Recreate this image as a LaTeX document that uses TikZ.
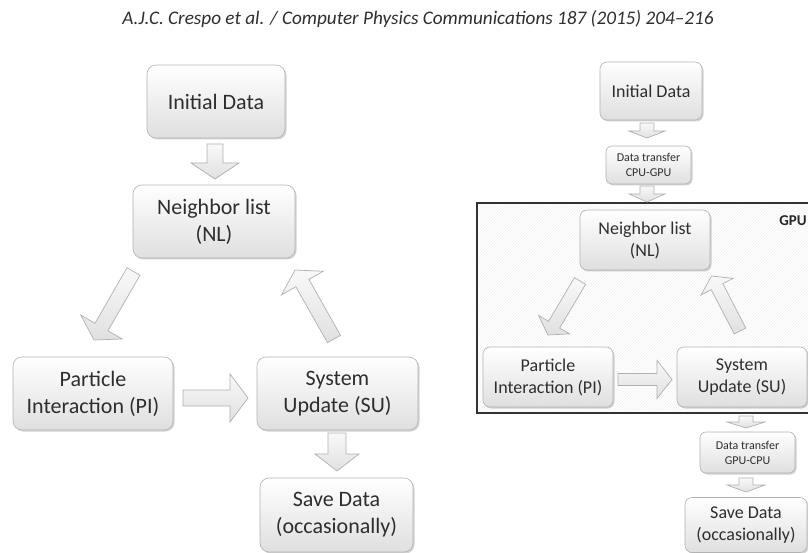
\documentclass[tikz,border=0pt]{standalone}
\usepackage{fontspec}
\setmainfont{Carlito}
\usetikzlibrary{calc,shadows,patterns}
\definecolor{txt}{HTML}{2E2E2E}
\tikzset{
  box/.style={draw=gray!60, line width=0.6pt, rounded corners=9pt, top color=white, bottom color=gray!25,
    align=center, text=txt, inner sep=2pt,
    drop shadow={shadow xshift=1.5pt, shadow yshift=-1.5pt, opacity=0.35, fill=gray}},
  bigbox/.style={box, font=\fontsize{22}{27}\selectfont},
  smallbox/.style={box, rounded corners=7pt, font=\fontsize{18}{22}\selectfont},
  tinybox/.style={box, rounded corners=6pt, font=\fontsize{12}{15}\selectfont},
  barrow/.style={draw=gray!62, line width=0.7pt, top color=gray!5, bottom color=gray!24, line join=miter},
  gpubox/.style={draw=black!80, line width=1.5pt, pattern=north east lines, pattern color=gray!12},
}
% #1 start, #2 end, #3 shaft half width, #4 head half width, #5 head length
\newcommand\blockarrow[5]{%
  \coordinate (bah) at ($(#2)!#5pt!(#1)$);
  \path[barrow] ($(#1)!#3pt!90:(#2)$) -- ($(bah)!#3pt!90:(#2)$) -- ($(bah)!#4pt!90:(#2)$) -- (#2)
    -- ($(bah)!#4pt!-90:(#2)$) -- ($(bah)!#3pt!-90:(#2)$) -- ($(#1)!#3pt!-90:(#2)$) -- cycle;
}
\begin{document}
\begin{tikzpicture}[x=1pt,y=-1pt]
\useasboundingbox (0,0) rectangle (808,553);

% header
\node[font=\itshape\fontsize{19.2}{22}\selectfont, text=txt] (header) at (418,19)
  {A.J.C. Crespo et al. / Computer Physics Communications 187 (2015) 204--216};

% ---------------- left diagram ----------------
\node[bigbox, minimum width=138pt, minimum height=73pt] (lInit) at (216,101.5) {Initial Data};
\node[bigbox, minimum width=162pt, minimum height=73pt] (lNL) at (214,221.5) {Neighbor list\\(NL)};
\node[bigbox, minimum width=160pt, minimum height=73pt] (lPI) at (93,393.5) {Particle\\Interaction (PI)};
\node[bigbox, minimum width=161pt, minimum height=73pt] (lSU) at (337.5,393.5) {System\\Update (SU)};
\node[bigbox, minimum width=153pt, minimum height=74pt] (lSave) at (336.5,515) {Save Data\\(occasionally)};

\coordinate (a1s) at (215,144);   \coordinate (a1e) at (215,179);
\coordinate (a2s) at (133.5,271.5); \coordinate (a2e) at (94,340);
\coordinate (a3s) at (183,398);   \coordinate (a3e) at (248,398);
\coordinate (a4s) at (334,339);   \coordinate (a4e) at (295,270);
\coordinate (a5s) at (337,433);   \coordinate (a5e) at (337,471);
\blockarrow{a1s}{a1e}{8}{24}{16}
\blockarrow{a2s}{a2e}{7.5}{24}{15}
\blockarrow{a3s}{a3e}{8}{24}{18}
\blockarrow{a4s}{a4e}{7.5}{24}{15}
\blockarrow{a5s}{a5e}{9}{22}{17}

% ---------------- right diagram ----------------
\path[gpubox] (477,203) rectangle (815,413);
\node[font=\bfseries\fontsize{15}{18}\selectfont, text=black!85] (gpu) at (793,221) {GPU};

\node[smallbox, minimum width=102pt, minimum height=58pt] (rInit) at (651,91) {Initial Data};
\node[tinybox, minimum width=85pt, minimum height=38pt] (rDT1) at (648.5,165) {Data transfer\\CPU-GPU};
\node[smallbox, minimum width=130pt, minimum height=60pt] (rNL) at (645,240) {Neighbor list\\(NL)};
\node[smallbox, minimum width=130pt, minimum height=60pt] (rPI) at (548,377) {Particle\\Interaction (PI)};
\node[smallbox, minimum width=130pt, minimum height=60pt] (rSU) at (742,377) {System\\Update (SU)};
\node[tinybox, minimum width=95pt, minimum height=41pt] (rDT2) at (747.5,452.5) {Data transfer\\GPU-CPU};
\node[smallbox, minimum width=122pt, minimum height=55pt] (rSave) at (746,525) {Save Data\\(occasionally)};

\coordinate (b1s) at (647,123);   \coordinate (b1e) at (647,138);
\coordinate (b2s) at (647,186);   \coordinate (b2e) at (647,202);
\coordinate (b3s) at (580,281);   \coordinate (b3e) at (548,335);
\coordinate (b4s) at (618,379.5); \coordinate (b4e) at (672,379.5);
\coordinate (b5s) at (740,331);   \coordinate (b5e) at (711.5,276);
\coordinate (b6s) at (746,416);   \coordinate (b6e) at (746,428);
\coordinate (b7s) at (746,478);   \coordinate (b7e) at (746,492);
\blockarrow{b1s}{b1e}{7}{18}{7}
\blockarrow{b2s}{b2e}{7}{18}{8}
\blockarrow{b3s}{b3e}{6.5}{18}{12}
\blockarrow{b4s}{b4e}{6}{19}{15}
\blockarrow{b5s}{b5e}{6.5}{18}{12}
\blockarrow{b6s}{b6e}{7}{19}{6}
\blockarrow{b7s}{b7e}{7}{19}{7}
\end{tikzpicture}
\end{document}
